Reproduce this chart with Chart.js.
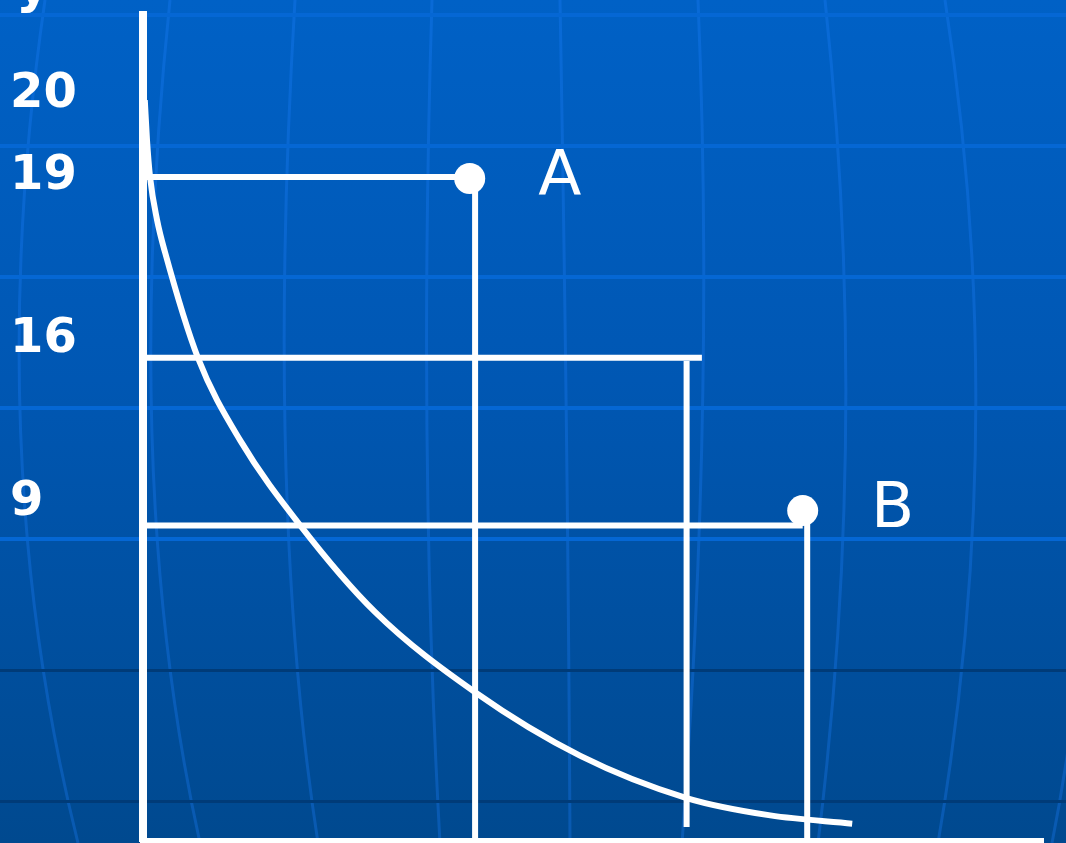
<!DOCTYPE html>
<html>
<head>
<meta charset="utf-8">
<script src="https://cdn.jsdelivr.net/npm/chart.js@4.4.0/dist/chart.umd.min.js"></script>
<style>
  body { margin: 0; }
  #wrap {
    position: relative; width: 1066px; height: 843px; overflow: hidden;
    background: linear-gradient(to bottom, #0061c6 0%, #0057b3 45%, #00498f 100%);
  }
  #bg, #chart { position: absolute; left: 0; top: 0; }
</style>
</head>
<body>
<div id="wrap">
  <!-- globe pattern of the slide template -->
  <svg id="bg" width="1066" height="843">
    <g stroke="rgba(30,130,255,0.3)" stroke-width="3" fill="none">
      <path d="M45 0 Q-20 450 78 843"/>
      <path d="M170 0 Q120 480 200 843"/>
      <path d="M295 0 Q265 500 318 843"/>
      <path d="M432 0 Q418 450 440 843"/>
      <path d="M560 0 Q568 450 570 843"/>
      <path d="M698 0 Q715 400 682 843"/>
      <path d="M825 0 Q870 420 818 843"/>
      <path d="M945 0 Q1010 420 938 843"/>
      <path d="M1090 300 Q1100 600 1052 843"/>
    </g>
    <g fill="#0567d4">
      <rect x="0" y="13" width="1066" height="4"/>
      <rect x="0" y="144" width="1066" height="4"/>
      <rect x="0" y="275" width="1066" height="4"/>
      <rect x="0" y="406" width="1066" height="4"/>
      <rect x="0" y="537" width="1066" height="4"/>
    </g>
    <g fill="#003b78">
      <rect x="0" y="669" width="1066" height="3"/>
      <rect x="0" y="800" width="1066" height="3"/>
    </g>
  </svg>
  <canvas id="chart" width="1066" height="843"></canvas>
</div>
<script>
// tick labels on the vertical axis and where they sit
const yTickPos = [41.0, 60.65, 80.5, 90.35];
const yTickLabels = ['9', '16', '19', '20'];

// the curve
const curveX = [0.2, 0.44, 0.78, 1.56, 2.44, 6.1, 10.8, 17.4, 25.8, 36.9, 48.6, 60.4, 69.7, 78.8];
const curveY = [89.7, 84.9, 80.4, 75.2, 71.3, 58.5, 48.5, 38.3, 27.7, 18.0, 10.3, 5.2, 3.1, 2.1];

// marked points
const pointNames = ['A', 'B'];
const pointX = [36.3, 73.3];
const pointY = [80.2, 40.0];

// horizontal guides from the axis (level, end)
const hLevel = [80.4, 58.5, 38.2];
const hEnd = [36.3, 62.1, 73.3];

// vertical guides (x, top, bottom)
const vX = [36.9, 60.4, 73.8];
const vTop = [80.4, 58.1, 40.0];
const vBottom = [0, 1.7, 0];

const white = '#ffffff';

function seg(points) {
  return {
    data: points,
    showLine: true,
    borderColor: white,
    borderWidth: 6,
    pointRadius: 0
  };
}

let datasets = [];
let curve = seg(curveX.map((x, i) => ({ x: x, y: curveY[i] })));
curve.cubicInterpolationMode = 'monotone';
datasets.push(curve);
hLevel.forEach((y, i) => datasets.push(seg([{ x: 0, y: y }, { x: hEnd[i], y: y }])));
vX.forEach((x, i) => datasets.push(seg([{ x: x, y: vTop[i] }, { x: x, y: vBottom[i] }])));
datasets.push({
  data: pointX.map((x, i) => ({ x: x, y: pointY[i] })),
  showLine: false,
  pointRadius: 15.5,
  pointBackgroundColor: white,
  pointBorderWidth: 0
});

// letters next to the points, and the cut-off axis letter at the top
const pointLabels = {
  id: 'pointLabels',
  afterDatasetsDraw(chart) {
    const ctx = chart.ctx;
    const xs = chart.scales.x, ys = chart.scales.y;
    ctx.save();
    ctx.fillStyle = white;
    ctx.font = '63px "DejaVu Sans"';
    ctx.textAlign = 'center';
    ctx.textBaseline = 'middle';
    pointNames.forEach((n, i) => {
      ctx.fillText(n, xs.getPixelForValue(pointX[i]) + 90, ys.getPixelForValue(pointY[i]));
    });
    ctx.font = 'bold 52px "DejaVu Sans"';
    ctx.textAlign = 'left';
    ctx.textBaseline = 'alphabetic';
    ctx.fillText('y', 16, 2);
    ctx.restore();
  }
};

let ctx = document.getElementById('chart').getContext('2d');
let myChart = new Chart(ctx, {
  type: 'scatter',
  data: { datasets: datasets },
  options: {
    responsive: false,
    animation: false,
    events: [],
    layout: { autoPadding: false, padding: { left: 10, top: 15, right: 23, bottom: 2 } },
    plugins: { legend: { display: false }, tooltip: { enabled: false } },
    scales: {
      x: {
        type: 'linear', min: 0, max: 100,
        grid: { display: false, drawTicks: false },
        ticks: { display: false },
        border: { display: true, color: white, width: 6 },
        afterFit(s) { s.height = 0; s.paddingLeft = 0; s.paddingRight = 0; }
      },
      y: {
        type: 'linear', min: 0, max: 100,
        grid: { display: false, drawTicks: false },
        border: { display: true, color: white, width: 8 },
        afterBuildTicks(s) { s.ticks = yTickPos.map(v => ({ value: v })); },
        ticks: {
          autoSkip: false,
          color: white,
          padding: 0,
          crossAlign: 'far',
          font: { family: '"DejaVu Sans"', size: 48, weight: 'bold' },
          callback: (v, i) => yTickLabels[i]
        },
        afterFit(s) { s.width = 133; s.paddingTop = 0; s.paddingBottom = 0; }
      }
    }
  },
  plugins: [pointLabels]
});
</script>
</body>
</html>
